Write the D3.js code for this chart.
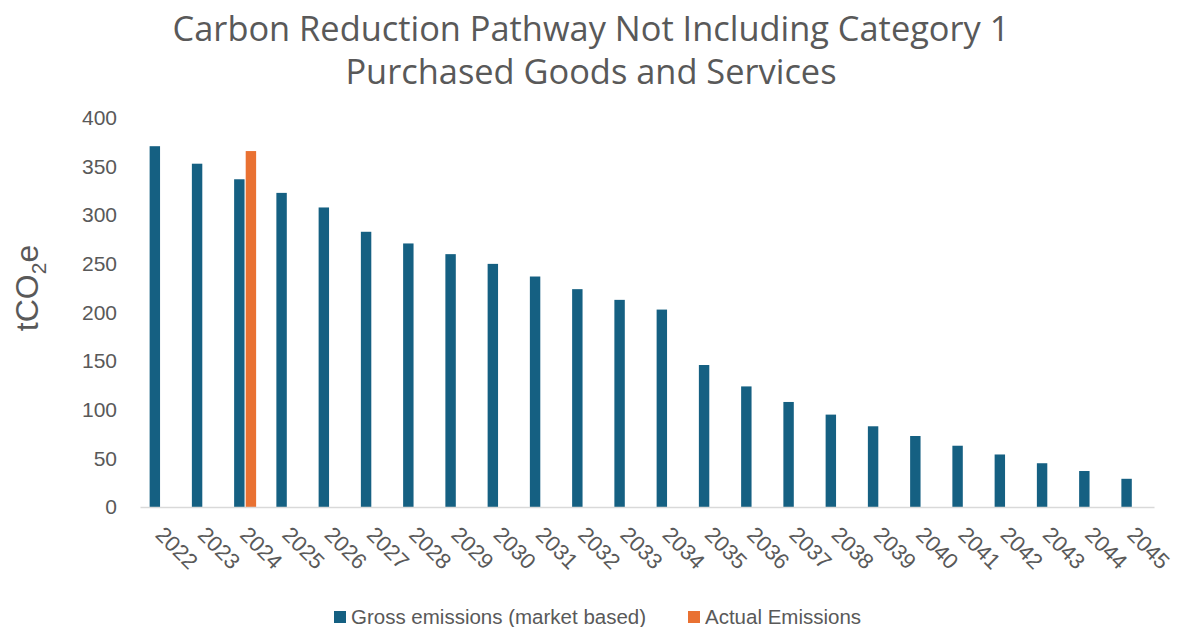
<!DOCTYPE html>
<html>
<head>
<meta charset="utf-8">
<script src="https://cdn.jsdelivr.net/npm/d3@7"></script>
<style>
  body { margin: 0; background: #fff; }
  text { fill: #595959; }
</style>
</head>
<body>
<div id="chart"></div>
<script>
var years = ["2022","2023","2024","2025","2026","2027","2028","2029","2030","2031","2032","2033",
  "2034","2035","2036","2037","2038","2039","2040","2041","2042","2043","2044","2045"];
var gross = [371, 353, 337, 323, 308, 283, 271, 260, 250, 237, 224, 213,
  203, 146, 124, 108, 95, 83, 73, 63, 54, 45, 37, 29];
var actual = [null, null, 366, null, null, null, null, null, null, null, null, null,
  null, null, null, null, null, null, null, null, null, null, null, null];
var seriesNames = ["Gross emissions (market based)", "Actual Emissions"];
var yTicks = [0, 50, 100, 150, 200, 250, 300, 350, 400];

var width = 1180, height = 627;
var colors = ["#156082", "#E97132"];
var font = "'Liberation Sans', Arial, sans-serif";

var svg = d3.select("#chart").append("svg")
  .attr("width", width)
  .attr("height", height);

var x = d3.scaleBand().domain(years).range([140, 1154]).padding(0);
var x1 = d3.scaleBand().domain(["gross", "actual"]).range([-11.5, 10.5]).paddingInner(0.1);
var y = d3.scaleLinear().domain([0, 400]).range([507, 118]);

// title, font size fitted so line 1 is as wide as in the reference
var title = svg.append("text")
  .attr("text-anchor", "middle")
  .style("font-family", "'Open Sans', sans-serif")
  .style("font-size", "32px");
var t1 = title.append("tspan").attr("x", 591).attr("y", 41).text("Carbon Reduction Pathway Not Including Category 1");
title.append("tspan").attr("x", 591).attr("y", 84).text("Purchased Goods and Services");
var w1 = t1.node().getComputedTextLength();
title.style("font-size", (32 * 837 / w1) + "px");

// y axis labels
var yAxis = svg.append("g")
  .attr("transform", "translate(117,0)")
  .call(d3.axisLeft(y).tickValues(yTicks).tickSize(0).tickPadding(0));
yAxis.select(".domain").remove();
yAxis.selectAll("text")
  .style("font-family", font)
  .style("font-size", "21px")
  .attr("fill", "#595959");

// y title
var yt = svg.append("text")
  .attr("transform", "translate(38,288) rotate(-90)")
  .attr("text-anchor", "middle")
  .style("font-family", font)
  .style("font-size", "32px");
yt.append("tspan").text("tCO");
yt.append("tspan").attr("dy", 8).style("font-size", "21px").text("2");
yt.append("tspan").attr("dy", -8).text("e");

// bars
var rows = years.map(function(yr, i) {
  return {year: yr, values: [
    {key: "gross", v: gross[i], c: colors[0]},
    {key: "actual", v: actual[i], c: colors[1]}
  ]};
});

var groups = svg.append("g").selectAll("g")
  .data(rows)
  .enter().append("g")
  .attr("transform", function(d) { return "translate(" + (x(d.year) + x.bandwidth() / 2) + ",0)"; });

groups.selectAll("rect")
  .data(function(d) { return d.values.filter(function(e) { return e.v != null; }); })
  .enter().append("rect")
  .attr("x", function(d) { return x1(d.key); })
  .attr("width", x1.bandwidth())
  .attr("y", function(d) { return y(d.v); })
  .attr("height", function(d) { return y(0) - y(d.v); })
  .attr("fill", function(d) { return d.c; });

// x axis
var xAxis = svg.append("g")
  .attr("transform", "translate(0," + y(0) + ")")
  .call(d3.axisBottom(x).tickSize(0).tickPadding(0));
xAxis.select(".domain").attr("stroke", "#d9d9d9").attr("stroke-width", 1.5);
xAxis.selectAll("text")
  .style("font-family", font)
  .style("font-size", "22px")
  .attr("fill", "#595959")
  .attr("text-anchor", "start")
  .attr("dy", null)
  .attr("y", 0)
  .attr("transform", "translate(-7,29) rotate(45)");

// legend
var legend = svg.append("g").attr("transform", "translate(0,617)");
var legX = [334, 688];
seriesNames.forEach(function(name, i) {
  legend.append("rect")
    .attr("x", legX[i]).attr("y", -6)
    .attr("width", 12).attr("height", 12)
    .attr("fill", colors[i]);
  legend.append("text")
    .attr("x", legX[i] + 17).attr("y", 7)
    .style("font-family", font)
    .style("font-size", "20.5px")
    .text(name);
});
</script>
</body>
</html>
